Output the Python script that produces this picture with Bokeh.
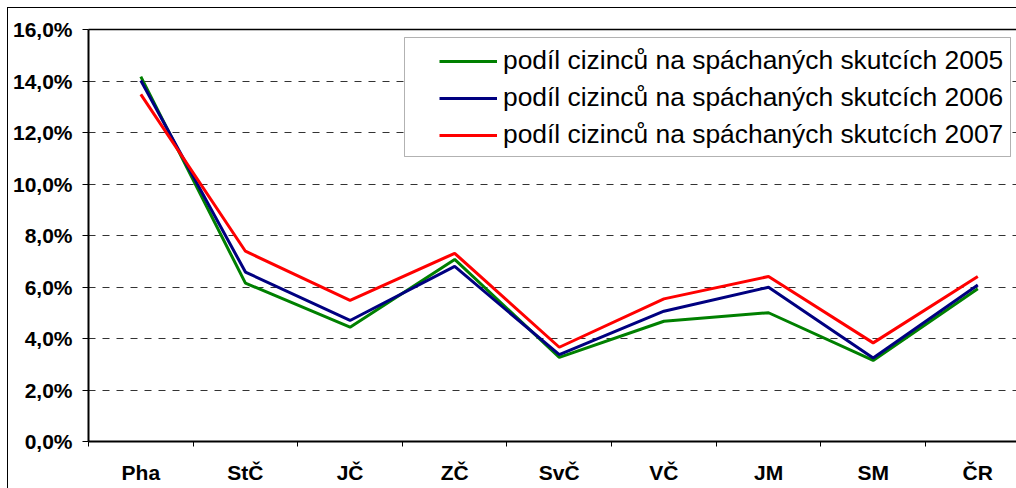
from bokeh.plotting import figure
from bokeh.models import Range1d, FixedTicker, LinearAxis, Legend, LegendItem, BoxAnnotation
from bokeh.embed import file_html
from bokeh.resources import INLINE

categories = ["Pha", "StČ", "JČ", "ZČ", "SvČ", "VČ", "JM", "SM", "ČR"]
share_2005 = [14.17, 6.15, 4.44, 7.07, 3.27, 4.67, 5.00, 3.15, 5.93]
share_2006 = [14.02, 6.58, 4.70, 6.80, 3.37, 5.06, 5.99, 3.24, 6.08]
share_2007 = [13.48, 7.39, 5.48, 7.31, 3.66, 5.54, 6.41, 3.83, 6.41]
y_ticks = [0, 2, 4, 6, 8, 10, 12, 14, 16]
y_tick_labels = ["0,0%", "2,0%", "4,0%", "6,0%", "8,0%", "10,0%", "12,0%", "14,0%", "16,0%"]
series_names = [
    "podíl cizinců na spáchaných skutcích 2005",
    "podíl cizinců na spáchaných skutcích 2006",
    "podíl cizinců na spáchaných skutcích 2007",
]
series_colors = ["#008000", "#000080", "#FF0000"]

x_pos = [i + 0.5 for i in range(len(categories))]
boundaries = list(range(len(categories)))

p = figure(width=1008, height=480, output_backend="svg", toolbar_location=None,
           x_range=Range1d(0, 8.87), y_range=Range1d(0, 16),
           min_border_left=80, min_border_right=0, min_border_top=21, min_border_bottom=47)
p.styles = {"margin-left": "8px", "margin-top": "8px", "outline": "1px solid black"}
p.outline_line_color = None
p.background_fill_color = "white"
p.border_fill_color = "white"

p.xgrid.visible = False
p.ygrid.ticker = FixedTicker(ticks=y_ticks)
p.ygrid.grid_line_color = "#333333"
p.ygrid.grid_line_dash = "7 7"
p.ygrid.grid_line_width = 1

renderers = []
for vals, col in zip([share_2005, share_2006, share_2007], series_colors):
    r = p.line(x_pos, vals, line_color=col, line_width=3)
    renderers.append(r)

# y axis
ya = p.yaxis[0]
ya.ticker = FixedTicker(ticks=y_ticks)
ya.major_label_overrides = dict(zip(y_ticks, y_tick_labels))
ya.axis_line_color = "black"
ya.axis_line_width = 2
ya.major_tick_out = 6
ya.major_tick_in = 0
ya.major_tick_line_color = "black"
ya.minor_tick_line_color = None
ya.major_label_standoff = 10
ya.major_label_text_font = "Liberation Sans"
ya.major_label_text_font_style = "bold"
ya.major_label_text_font_size = "21px"
ya.major_label_text_color = "black"

# x axis
xa = p.xaxis[0]
xa.ticker = FixedTicker(ticks=x_pos, minor_ticks=boundaries)
xa.major_label_overrides = dict(zip(x_pos, categories))
xa.axis_line_color = "black"
xa.axis_line_width = 2
xa.major_tick_out = 0
xa.major_tick_in = 0
xa.major_tick_line_color = None
xa.minor_tick_out = 5
xa.minor_tick_in = 0
xa.minor_tick_line_color = "black"
xa.minor_tick_line_width = 1
xa.major_label_standoff = 14
xa.major_label_text_font = "Liberation Sans"
xa.major_label_text_font_style = "bold"
xa.major_label_text_font_size = "21px"
xa.major_label_text_color = "black"

# top frame line
ta = LinearAxis(ticker=FixedTicker(ticks=[]), axis_line_color="black", axis_line_width=1.5,
                major_tick_line_color=None, minor_tick_line_color=None,
                major_label_text_font_size="0px")
p.add_layout(ta, "above")

# legend frame
box = BoxAnnotation(left=316, right=922, top=404, bottom=285,
                    left_units="screen", right_units="screen",
                    top_units="screen", bottom_units="screen",
                    fill_color="white", fill_alpha=1.0,
                    line_color="black", line_width=1)
p.add_layout(box)

items = [LegendItem(label=n, renderers=[r]) for n, r in zip(series_names, renderers)]
legend = Legend(items=items, location=(351, 288), padding=0, spacing=0, margin=0,
                label_height=37, glyph_width=58, glyph_height=20, label_standoff=6,
                border_line_color=None, background_fill_alpha=0,
                label_text_font="Liberation Sans", label_text_font_size="26.4px",
                label_text_color="black")
p.add_layout(legend)

open("out.html", "w").write(file_html(p, INLINE))
